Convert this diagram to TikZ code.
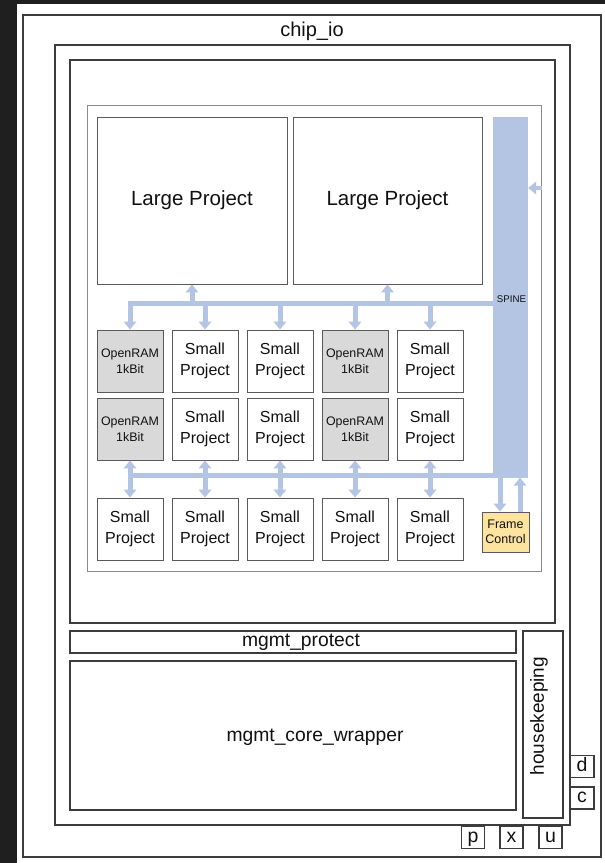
\documentclass[tikz,border=0pt]{standalone}
\usepackage{fontspec}
\setmainfont{Liberation Sans}
\usetikzlibrary{arrows.meta}
\definecolor{bgdark}{HTML}{1F1F1F}
\definecolor{busblue}{HTML}{B4C5E4}
\definecolor{ramgray}{HTML}{D9D9D9}
\definecolor{fcyellow}{HTML}{FCE3A0}
\definecolor{framec}{HTML}{3C3C3C}
\definecolor{boxc}{HTML}{5A5A5A}
\definecolor{innerc}{HTML}{8A8A8A}
\definecolor{txt}{HTML}{111111}
\begin{document}
\begin{tikzpicture}[x=1pt,y=-1pt,
  every node/.style={text=txt},
  frame/.style={draw=framec,line width=1.4pt,rectangle,inner sep=0pt},
  blk/.style={draw=boxc,line width=0.9pt,rectangle,inner sep=0pt,minimum width=66pt,minimum height=62pt,fill=white,align=center,font=\fontsize{16}{21}\selectfont},
  ram/.style={blk,fill=ramgray,font=\fontsize{12.4}{16.5}\selectfont},
  pin/.style={frame,line width=1.2pt,minimum width=23pt,minimum height=22pt,text height=13pt,text depth=4pt,font=\fontsize{19.5}{21}\selectfont},
  bus/.style={draw=busblue,line width=5pt},
  tip/.style={-{Triangle[width=12.5pt,length=8pt]}},
  dtip/.style={{Triangle[width=12.5pt,length=8pt]}-{Triangle[width=12.5pt,length=8pt]}}]
\useasboundingbox (0,0) rectangle (605,863);
\fill[bgdark] (0,0) rectangle (605,863);
\fill[white] (17,4) rectangle (605,863);

% frames
\node[frame,minimum width=578pt,minimum height=842pt] (chipio) at (312,436) {};
\node[font=\fontsize{20}{22}\selectfont] (chipiot) at (312,31) {chip\_io};
\node[frame,minimum width=515pt,minimum height=780pt] (core) at (312.5,435) {};
\node[frame,minimum width=485pt,minimum height=563pt] (user) at (312.5,341.5) {};
\node[draw=innerc,line width=0.8pt,rectangle,inner sep=0pt,minimum width=454pt,minimum height=466pt] (upa) at (314,338) {};

% spine
\node[fill=busblue,rectangle,inner sep=0pt,minimum width=35pt,minimum height=360.5pt] (spine) at (510.5,297.25) {};
\node[font=\fontsize{9.7}{11}\selectfont] (spinet) at (511.5,299) {SPINE};

% large projects
\node[blk,minimum width=190pt,minimum height=167pt,font=\fontsize{20.5}{24}\selectfont] (lp1) at (192,200.5) {Large Project};
\node[blk,minimum width=189pt,minimum height=167pt,font=\fontsize{20.5}{24}\selectfont] (lp2) at (387.5,200.5) {Large Project};

% grid
\node[ram] (r1c1) at (130,361) {OpenRAM\\1kBit};
\node[blk] (r1c2) at (205,361) {Small\\Project};
\node[blk] (r1c3) at (280,361) {Small\\Project};
\node[ram] (r1c4) at (355,361) {OpenRAM\\1kBit};
\node[blk] (r1c5) at (430,361) {Small\\Project};
\node[ram] (r2c1) at (130,429) {OpenRAM\\1kBit};
\node[blk] (r2c2) at (205,429) {Small\\Project};
\node[blk] (r2c3) at (280,429) {Small\\Project};
\node[ram] (r2c4) at (355,429) {OpenRAM\\1kBit};
\node[blk] (r2c5) at (430,429) {Small\\Project};
\node[blk] (r3c1) at (130,529) {Small\\Project};
\node[blk] (r3c2) at (205,529) {Small\\Project};
\node[blk] (r3c3) at (280,529) {Small\\Project};
\node[blk] (r3c4) at (355,529) {Small\\Project};
\node[blk] (r3c5) at (430,529) {Small\\Project};
\node[blk,fill=fcyellow,minimum width=47pt,minimum height=40pt,font=\fontsize{12.5}{15}\selectfont] (fc) at (505.5,532) {Frame\\Control};

% top bus
\coordinate (tb) at (130,303);
\draw[bus,tip] (tb -| spine.west) -- (tb) -- (r1c1.north);
\foreach \n in {r1c2,r1c3,r1c4,r1c5} {\draw[bus,tip] (tb -| \n.north) -- (\n.north);}
\draw[bus,tip] (tb -| lp1.south) -- (lp1.south);
\draw[bus,tip] (tb -| lp2.south) -- (lp2.south);

% bottom bus
\coordinate (bb) at (130,475);
\draw[bus] (bb) -- (bb -| spine.west);
\foreach \c in {1,...,5} {\draw[bus,dtip] (r2c\c.south) -- (r3c\c.north);}

% frame control
\draw[bus,tip] ([xshift=-5.5pt]fc.north |- spine.south) -- ([xshift=-5.5pt]fc.north);
\draw[bus,tip] ([xshift=14.5pt]fc.north) -- ([xshift=14.5pt]fc.north |- spine.south);

% spine input
\coordinate (sin) at (542,188);
\draw[bus,line width=4pt,tip] (sin) -- (sin -| spine.east);

% management area
\node[frame,minimum width=446pt,minimum height=22pt] (mprot) at (293,642) {};
\node[anchor=base,font=\fontsize{19.3}{22}\selectfont] (mprott) at (301,646) {mgmt\_protect};
\node[frame,minimum width=446pt,minimum height=149pt] (mcore) at (293,735.5) {};
\node[anchor=base,font=\fontsize{19.3}{22}\selectfont] (mcoret) at (315,741) {mgmt\_core\_wrapper};
\node[frame,minimum width=40pt,minimum height=187pt] (hk) at (543,724.5) {};
\node[rotate=90,font=\fontsize{19}{22}\selectfont] (hkt) at (539,716) {housekeeping};

% pads
\node[pin,minimum width=24pt] (pd) at (582,766.5) {d};
\node[pin,minimum width=24pt] (pc) at (582,798) {c};
\node[pin] (pp) at (473,837.5) {p};
\node[pin] (px) at (511.5,837.5) {x};
\node[pin] (pu) at (550.5,837.5) {u};
\end{tikzpicture}
\end{document}
